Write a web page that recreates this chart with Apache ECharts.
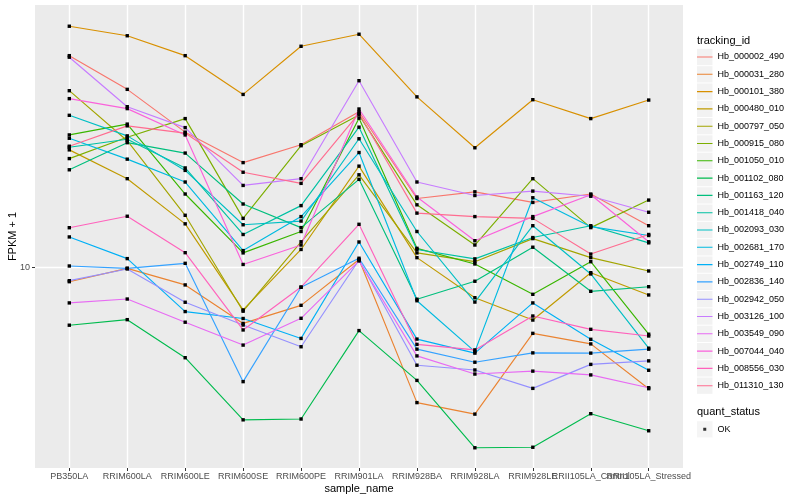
<!DOCTYPE html>
<html><head><meta charset="utf-8">
<script src="https://cdn.jsdelivr.net/npm/echarts@6/dist/echarts.min.js"></script>
<style>html,body{margin:0;padding:0;background:#fff}#c{width:800px;height:500px}</style>
</head><body><div id="c"></div>
<script>
const categories = ['PB350LA','RRIM600LA','RRIM600LE','RRIM600SE','RRIM600PE','RRIM901LA','RRIM928BA','RRIM928LA','RRIM928LE','RRII105LA_Control','RRII105LA_Stressed'];
const trackingIds = ['Hb_000002_490','Hb_000031_280','Hb_000101_380','Hb_000480_010','Hb_000797_050','Hb_000915_080','Hb_001050_010','Hb_001102_080','Hb_001163_120','Hb_001418_040','Hb_002093_030','Hb_002681_170','Hb_002749_110','Hb_002836_140','Hb_002942_050','Hb_003126_100','Hb_003549_090','Hb_007044_040','Hb_008556_030','Hb_011310_130'];
const yTicks = [10];
const fpkm_000002_490 = [50.9, 39.3, 28.3, 22.4, 25.7, 33.1, 17.0, 17.9, 16.5, 17.6, 13.8];
const fpkm_000031_280 = [8.98, 9.95, 8.76, 6.52, 7.49, 10.65, 3.55, 3.25, 6.04, 5.57, 3.95];
const fpkm_000101_380 = [63.8, 59.3, 50.9, 37.8, 54.7, 60.0, 37.1, 25.1, 36.3, 31.4, 36.2];
const fpkm_000480_010 = [24.7, 19.8, 14.0, 7.23, 11.5, 21.8, 10.8, 7.94, 6.69, 9.62, 8.11];
const fpkm_000797_050 = [38.9, 26.5, 14.95, 7.16, 12.2, 20.4, 11.2, 10.47, 12.5, 10.8, 9.75];
const fpkm_000915_080 = [23.1, 27.2, 31.4, 14.6, 25.5, 32.3, 16.2, 11.9, 19.8, 13.6, 16.8];
const fpkm_001050_010 = [27.7, 30.1, 17.6, 11.2, 13.2, 31.5, 11.6, 10.29, 8.15, 10.47, 6.00];
const fpkm_001102_080 = [6.43, 6.71, 5.01, 3.11, 3.13, 6.17, 4.21, 2.51, 2.52, 3.26, 2.86];
const fpkm_001163_120 = [21.2, 26.1, 24.1, 16.3, 13.6, 19.7, 7.85, 9.01, 11.7, 8.34, 8.64];
const fpkm_001418_040 = [25.2, 26.8, 21.5, 12.9, 16.1, 29.4, 11.5, 10.7, 12.6, 13.8, 12.1];
const fpkm_002093_030 = [32.2, 27.5, 21.1, 13.9, 14.3, 26.9, 13.2, 7.68, 13.8, 9.53, 5.39];
const fpkm_002681_170 = [27.0, 23.0, 19.3, 11.4, 14.8, 24.2, 7.76, 5.25, 17.1, 13.7, 12.8];
const fpkm_002749_110 = [12.66, 10.72, 7.14, 6.77, 5.81, 12.18, 5.78, 5.19, 7.63, 5.77, 4.55];
const fpkm_002836_140 = [10.13, 9.95, 10.34, 4.17, 8.60, 10.75, 5.35, 4.84, 5.20, 5.19, 5.35];
const fpkm_002942_050 = [9.05, 9.90, 7.67, 6.44, 5.45, 10.61, 4.73, 4.56, 3.96, 4.76, 4.89];
const fpkm_003126_100 = [50.3, 34.4, 29.3, 18.8, 19.8, 42.0, 19.3, 17.4, 18.0, 17.3, 15.3];
const fpkm_003549_090 = [7.63, 7.86, 6.58, 5.52, 6.78, 10.53, 5.08, 4.42, 4.52, 4.39, 3.98];
const fpkm_007044_040 = [36.6, 33.9, 27.7, 10.25, 11.9, 33.8, 17.2, 12.3, 14.8, 17.5, 12.2];
const fpkm_008556_030 = [13.59, 14.84, 11.22, 6.20, 8.62, 13.95, 5.55, 5.32, 6.90, 6.23, 5.92];
const fpkm_011310_130 = [25.4, 29.7, 28.1, 20.8, 19.1, 32.7, 15.2, 14.8, 14.6, 11.1, 12.9];
const seriesValues = [fpkm_000002_490, fpkm_000031_280, fpkm_000101_380, fpkm_000480_010, fpkm_000797_050, fpkm_000915_080, fpkm_001050_010, fpkm_001102_080, fpkm_001163_120, fpkm_001418_040, fpkm_002093_030, fpkm_002681_170, fpkm_002749_110, fpkm_002836_140, fpkm_002942_050, fpkm_003126_100, fpkm_003549_090, fpkm_007044_040, fpkm_008556_030, fpkm_011310_130];
const quantStatus = ['OK'];

const colors = ['#F8766D','#EA8331','#D89000','#C09B00','#A3A500','#7CAE00','#39B600','#00BB4E','#00BF7D','#00C1A3','#00BFC4','#00BAE0','#00B0F6','#35A2FF','#9590FF','#C77CFF','#E76BF3','#FA62DB','#FF62BC','#FF6C90'];
const FONT = '"Liberation Sans", Arial, Helvetica, sans-serif';
const yMin = 2.149, yMax = 75.09;

const chart = echarts.init(document.getElementById('c'), null, {renderer: 'canvas'});

const series = trackingIds.map((id, i) => ({
  name: id, type: 'line', xAxisIndex: 1, yAxisIndex: 1,
  data: seriesValues[i],
  symbol: 'rect', symbolSize: 3.4, showSymbol: true, showAllSymbol: true,
  lineStyle: {color: colors[i], width: 1.15},
  itemStyle: {color: '#000', borderWidth: 0},
  emphasis: {disabled: true}, silent: true, animation: false
}));
series.push({name: quantStatus[0], type: 'scatter', xAxisIndex: 1, yAxisIndex: 1, data: [], symbol: 'rect', itemStyle: {color: '#000'}});

const KW = 15.5, KH = 16.3;
const corners = 'M0,0h0.01v0.01h-0.01zM' + (KW - 0.01) + ',' + (KH - 0.01) + 'h0.01v0.01h-0.01z';
const lineIcon = 'path://' + corners + 'M0,' + (KH / 2 - 0.55) + 'h' + KW + 'v1.1h-' + KW + 'z';
const pointIcon = 'path://' + corners + 'M' + (KW / 2 - 1.5) + ',' + (KH / 2 - 1.5) + 'h3v3h-3z';

const legendBase = {
  orient: 'vertical', left: 697, itemWidth: KW, itemHeight: KH, itemGap: 1, padding: 0,
  selectedMode: false, textStyle: {fontSize: 9, fontFamily: FONT, color: '#000'}
};

const option = {
  animation: false,
  textStyle: {fontFamily: FONT},
  title: [
    {text: 'tracking_id', left: 697, top: 35, padding: 0, textStyle: {fontSize: 11, fontWeight: 'normal', color: '#000', fontFamily: FONT}},
    {text: 'quant_status', left: 697, top: 406, padding: 0, textStyle: {fontSize: 11, fontWeight: 'normal', color: '#000', fontFamily: FONT}}
  ],
  legend: [
    Object.assign({}, legendBase, {top: 48.85, icon: 'rect', z: 3,
      data: trackingIds.map(n => ({name: n, itemStyle: {color: '#F2F2F2', borderWidth: 0}})),
      textStyle: {fontSize: 9, fontFamily: FONT, color: 'rgba(0,0,0,0)'}}),
    Object.assign({}, legendBase, {top: 48.85, icon: lineIcon, z: 4,
      data: trackingIds.map((n, i) => ({name: n, itemStyle: {color: colors[i], borderWidth: 0}}))}),
    Object.assign({}, legendBase, {top: 421.15, icon: 'rect', z: 3,
      data: quantStatus.map(n => ({name: n, itemStyle: {color: '#F2F2F2', borderWidth: 0}})),
      textStyle: {fontSize: 9, fontFamily: FONT, color: 'rgba(0,0,0,0)'}}),
    Object.assign({}, legendBase, {top: 421.15, icon: pointIcon, z: 4,
      data: quantStatus.map(n => ({name: n, itemStyle: {color: '#000', borderWidth: 0}}))})
  ],
  grid: [
    {left: 35, right: 117, top: 5, bottom: 32, show: true, backgroundColor: '#EBEBEB', borderWidth: 0, borderColor: 'transparent', containLabel: false, outerBoundsMode: 'none'},
    {left: 69.3, right: 151.3, top: 5, bottom: 32, show: false, containLabel: false, outerBoundsMode: 'none'}
  ],
  xAxis: [
    {gridIndex: 0, type: 'value', show: false, min: 0, max: 1},
    {gridIndex: 1, type: 'category', data: categories, boundaryGap: false,
      axisLine: {show: false},
      axisTick: {show: true, interval: 0, length: 3, lineStyle: {color: '#333333', width: 1}},
      axisLabel: {interval: 0, hideOverlap: false, fontSize: 9, color: '#4D4D4D', margin: 4, fontFamily: FONT},
      splitLine: {show: true, interval: 0, lineStyle: {color: '#FFFFFF', width: 1.4}},
      name: 'sample_name', nameLocation: 'middle', nameGap: 15, nameMoveOverlap: false,
      nameTextStyle: {fontSize: 11, color: '#000', fontFamily: FONT}}
  ],
  yAxis: [
    {gridIndex: 0, type: 'log', logBase: 10, min: yMin, max: yMax,
      axisLine: {show: false},
      axisTick: {show: true, length: 3, lineStyle: {color: '#333333', width: 1}, customValues: yTicks},
      axisLabel: {customValues: yTicks, fontSize: 9, color: '#4D4D4D', margin: 5, fontFamily: FONT, showMinLabel: false, showMaxLabel: false},
      splitLine: {show: true, lineStyle: {color: '#FFFFFF', width: 1.4}},
      minorTick: {show: false}, minorSplitLine: {show: false},
      name: 'FPKM + 1', nameLocation: 'middle', nameGap: 17, nameRotate: 90, nameMoveOverlap: false,
      nameTextStyle: {fontSize: 11, color: '#000', fontFamily: FONT}},
    {gridIndex: 1, type: 'log', logBase: 10, min: yMin, max: yMax, show: false}
  ],
  series: series
};
chart.setOption(option);
</script>
</body></html>
